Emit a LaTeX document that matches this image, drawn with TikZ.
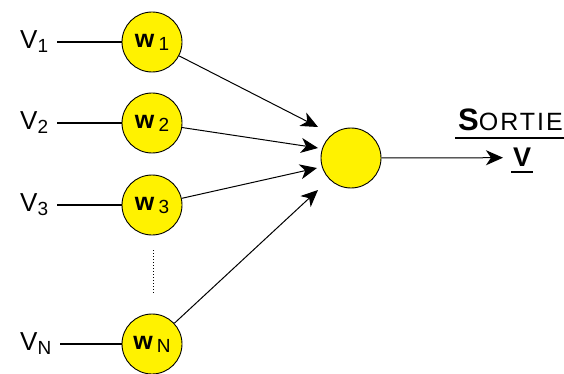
\documentclass[tikz,border=0pt]{standalone}
\usepackage{fontspec}
\setmainfont{Liberation Sans}
\newfontfamily\widefont[LetterSpace=8]{Liberation Sans}
\usetikzlibrary{arrows.meta}

\newcommand{\lowidx}[2]{\raisebox{-#2}{\fontsize{19}{19}\selectfont #1}}

\tikzset{
  neuron/.style={circle, draw=black, line width=0.9pt, fill=yellow, minimum size=60pt, inner sep=0pt},
  entree/.style={inner sep=0pt, font=\fontsize{26}{26}\selectfont},
  fleche/.style={-{Stealth[length=17pt,width=15pt,inset=5pt]}, line width=1pt}
}

\begin{document}
\begin{tikzpicture}[x=1pt, y=-1pt]

\useasboundingbox (0,0) rectangle (564,374);

% entrees et poids
\foreach \n/\y in {1/42,2/123,3/205,N/344}{
  \node[neuron] (w\n) at (152,\y) {\fontsize{25}{25}\selectfont\bfseries w\,\lowidx{\mdseries\n}{3pt}};
  \node[entree, anchor=west] (v\n) at (20,\y) {V\lowidx{\n}{4pt}};
  \draw[line width=1.1pt] ([xshift=9pt]v\n.east) -- (w\n);
}

% pointilles
\coordinate (p1) at (153,250);
\coordinate (p2) at (153,294);
\draw[dotted, line width=1pt] (p1) -- (p2);

% sortie
\node[neuron] (out) at (351,158) {};

\coordinate (in1) at (318,127);
\coordinate (in2) at (318,148);
\coordinate (in3) at (317,168);
\coordinate (inN) at (318,190);

\foreach \n in {1,2,3,N}{\draw[fleche] (w\n) -- (in\n);}

\node[inner sep=0pt, anchor=base west] (sortie) at (458,131)
  {\fontsize{31}{31}\selectfont\bfseries S\widefont\mdseries\fontsize{25}{25}\selectfont ORTIE};
\coordinate (s1) at (455,138);
\coordinate (s2) at (564,138);
\draw[line width=1.8pt] (s1) -- (s2);

\node[inner sep=0pt, anchor=base west, font=\fontsize{27}{27}\selectfont\bfseries] (vout) at (513,167) {V};
\coordinate (u1) at (511,172);
\coordinate (u2) at (533,172);
\draw[line width=1.8pt] (u1) -- (u2);

\draw[fleche] (out) -- ([xshift=-10pt]vout.west);

\end{tikzpicture}
\end{document}
